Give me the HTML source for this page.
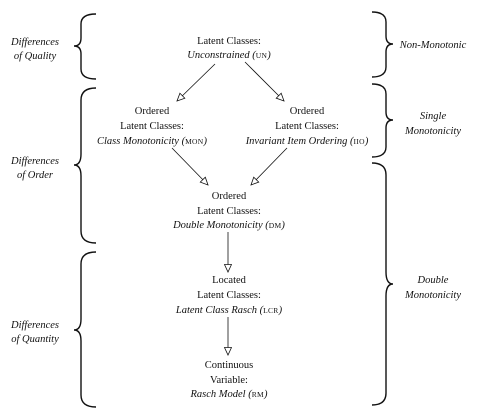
<!DOCTYPE html>
<html><head><style>
html,body{margin:0;padding:0;background:#fff;}
svg{display:block;}
text{font-family:"Liberation Serif",serif;font-size:10.5px;fill:#111;text-anchor:middle;}
.i{font-style:italic;}
.sc{font-size:7.5px;font-style:normal;letter-spacing:0.3px;}
</style></head><body>
<svg width="479" height="415" viewBox="0 0 479 415">
<defs>
<marker id="a" markerWidth="10" markerHeight="10" refX="8" refY="4" orient="auto" markerUnits="userSpaceOnUse">
<path d="M0.5,0.5 L8,4 L0.5,7.5 Z" fill="#fff" stroke="#111" stroke-width="0.8"/>
</marker>
</defs>
<g fill="none" stroke="#111" stroke-width="1.4">
<!-- left braces -->
<path d="M96,14 Q81,14 81,24 L81,38 Q81,46 74,46 Q81,46 81,54 L81,69 Q81,79 96,79"/>
<path d="M96,88 Q81,88 81,100 L81,154 Q81,165 74,165 Q81,165 81,176 L81,231 Q81,243 96,243"/>
<path d="M96,252 Q81,252 81,264 L81,319 Q81,330 74,330 Q81,330 81,341 L81,395 Q81,407 96,407"/>
<!-- right braces -->
<path d="M372,12 Q386,12 386,22 L386,36 Q386,44 393,44 Q386,44 386,52 L386,67 Q386,77 372,77"/>
<path d="M372,84 Q386,84 386,94 L386,112 Q386,120 393,120 Q386,120 386,128 L386,147 Q386,157 372,157"/>
<path d="M372,163 Q386,163 386,175 L386,272 Q386,284 393,284 Q386,284 386,296 L386,393 Q386,405 372,405"/>
</g>
<g stroke="#111" stroke-width="0.8" marker-end="url(#a)">
<line x1="215" y1="64" x2="177" y2="101"/>
<line x1="245" y1="62" x2="284" y2="101"/>
<line x1="172" y1="148" x2="208" y2="185"/>
<line x1="287" y1="148" x2="251" y2="185"/>
<line x1="228" y1="232" x2="228" y2="272"/>
<line x1="228" y1="317" x2="228" y2="355"/>
</g>
<!-- left labels -->
<text class="i" x="35" y="45">Differences</text>
<text class="i" x="35" y="59">of Quality</text>
<text class="i" x="35" y="164">Differences</text>
<text class="i" x="35" y="178">of Order</text>
<text class="i" x="35" y="328">Differences</text>
<text class="i" x="35" y="342">of Quantity</text>
<!-- right labels -->
<text class="i" x="433" y="48">Non-Monotonic</text>
<text class="i" x="433" y="119">Single</text>
<text class="i" x="433" y="134">Monotonicity</text>
<text class="i" x="433" y="283">Double</text>
<text class="i" x="433" y="298">Monotonicity</text>
<!-- nodes -->
<text x="229" y="44">Latent Classes:</text>
<text class="i" x="229" y="58">Unconstrained (<tspan class="sc">UN</tspan>)</text>

<text x="152" y="114">Ordered</text>
<text x="152" y="129">Latent Classes:</text>
<text class="i" x="152" y="144">Class Monotonicity (<tspan class="sc">MON</tspan>)</text>

<text x="307" y="114">Ordered</text>
<text x="307" y="129">Latent Classes:</text>
<text class="i" x="307" y="144">Invariant Item Ordering (<tspan class="sc">IIO</tspan>)</text>

<text x="229" y="199">Ordered</text>
<text x="229" y="214">Latent Classes:</text>
<text class="i" x="229" y="228">Double Monotonicity (<tspan class="sc">DM</tspan>)</text>

<text x="229" y="283">Located</text>
<text x="229" y="298">Latent Classes:</text>
<text class="i" x="229" y="313">Latent Class Rasch (<tspan class="sc">LCR</tspan>)</text>

<text x="229" y="368">Continuous</text>
<text x="229" y="383">Variable:</text>
<text class="i" x="229" y="397">Rasch Model (<tspan class="sc">RM</tspan>)</text>
</svg>
</body></html>
